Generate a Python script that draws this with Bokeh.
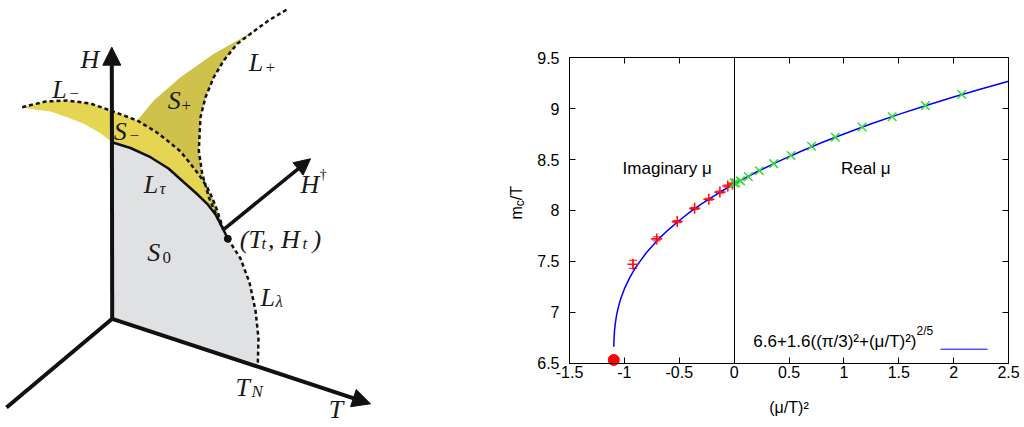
import math
from bokeh.plotting import figure
from bokeh.layouts import row
from bokeh.models import (Range1d, Arrow, NormalHead, Label, Whisker, TeeHead,
                          ColumnDataSource, FixedTicker, LinearAxis)
from bokeh.embed import file_html
from bokeh.resources import INLINE

# ---------------- left panel: schematic phase diagram (panel pixel space) ----------------
ORIGIN = (111.7, 318.3)
H_TIP = (111.3, 46.7)
T_TIP = (370.0, 403.3)
BACK_END = (6.0, 407.0)
HDAG_START = (222.7, 229.3)
HDAG_TIP = (310.0, 158.3)
TRICRIT = (227.3, 238.3)

LTAU_X = [111.5, 130, 150, 168, 183.3, 196, 206.7, 215, 221.7, 227.3]
LTAU_Y = [141.7, 147.5, 156.7, 168, 181.7, 193, 203.3, 214, 226.7, 238.3]
LLAM_X = [227.3, 240, 249, 255, 258, 257.3]
LLAM_Y = [238.3, 258, 282, 310, 338, 364]
LMINUS_X = [21.7, 45, 66.7, 90, 110, 136.7, 155, 166.7, 180, 190, 199, 206.7, 212, 216.7, 220, 222.7]
LMINUS_Y = [106.7, 101, 100, 103, 110, 120, 131, 140, 151, 163.3, 175, 186.7, 198, 210, 220, 229.3]
LPLUS_X = [286, 268, 256.7, 236.7, 223.3, 213.3, 205, 200, 198.3, 201.7, 208.3, 216, 222.7]
LPLUS_Y = [9.3, 20, 28.3, 43.3, 60, 76.7, 96.7, 116.7, 150, 173.3, 196.7, 215, 229.3]
SPLUS_EDGE_X = [136.7, 153.3, 180, 213.3, 240, 256.7]
SPLUS_EDGE_Y = [120, 100, 76.7, 53.3, 38.3, 28.3]
SMINUS_EDGE_X = [111.5, 100, 83.3, 66.7, 50, 21.7]
SMINUS_EDGE_Y = [141.7, 132.7, 123.3, 116.7, 111, 107.3]

C_SMINUS = "#E5D552"
C_SPLUS = "#CEC24C"
C_S0 = "#E0E1E3"

# ---------------- right panel data ----------------
XTICKS = [-1.5, -1.0, -0.5, 0.0, 0.5, 1.0, 1.5, 2.0, 2.5]
XTICK_LABELS = ["-1.5", "-1", "-0.5", "0", "0.5", "1", "1.5", "2", "2.5"]
YTICKS = [6.5, 7.0, 7.5, 8.0, 8.5, 9.0, 9.5]
YTICK_LABELS = ["6.5", "7", "7.5", "8", "8.5", "9", "9.5"]

RED_X = [-0.0144, -0.0576, -0.1296, -0.2304, -0.36, -0.5184, -0.7056, -0.9216]
RED_Y = [8.26, 8.24, 8.18, 8.11, 8.02, 7.89, 7.72, 7.47]
RED_ERR = [0.01, 0.01, 0.01, 0.01, 0.01, 0.012, 0.02, 0.04]

GREEN_X = [0.0, 0.0144, 0.0576, 0.1296, 0.2304, 0.36, 0.5184, 0.7056, 0.9216, 1.1664, 1.44, 1.7424, 2.0736]
GREEN_Y = [8.27, 8.27, 8.29, 8.33, 8.39, 8.46, 8.54, 8.63, 8.72, 8.82, 8.92, 9.03, 9.14]

DOT_X = [-1.0966]
DOT_Y = [6.53]

CURVE_X = [-1.0962, -1.095, -1.09, -1.08, -1.07, -1.06, -1.045, -1.03, -1.0, -0.95, -0.9, -0.8, -0.7,
           -0.6, -0.5, -0.4, -0.3, -0.2, -0.1, 0.0, 0.2, 0.4, 0.6, 0.8, 1.0, 1.25, 1.5, 1.75,
           2.0, 2.25, 2.5]
CURVE_Y = [6.66, 6.722, 6.815, 6.91, 6.975, 7.026, 7.088, 7.141, 7.228, 7.342, 7.435, 7.584, 7.705,
           7.809, 7.901, 7.985, 8.061, 8.131, 8.198, 8.26, 8.375, 8.48, 8.577, 8.667, 8.751, 8.851,
           8.944, 9.031, 9.115, 9.194, 9.27]

LEGEND_TEXT = "6.6+1.6((π/3)²+(μ/T)²)"
LEGEND_SUP = "2/5"

# ---------------- page geometry ----------------
LW, RW, H = 424, 596, 424
# plot box of the right panel in page pixels
BOX_L, BOX_R, BOX_T, BOX_B = 569.0, 1008.0, 57.3, 362.5

# ======================= LEFT FIGURE =======================
left = figure(width=LW, height=H, x_range=Range1d(0, LW), y_range=Range1d(H, 0),
              output_backend="svg", toolbar_location=None,
              x_axis_location=None, y_axis_location=None, min_border=0)
left.grid.visible = False
left.outline_line_color = None
left.background_fill_color = "white"

sm_x = LMINUS_X + LTAU_X[::-1] + SMINUS_EDGE_X
sm_y = LMINUS_Y + LTAU_Y[::-1] + SMINUS_EDGE_Y
left.patch(sm_x, sm_y, fill_color=C_SMINUS, line_color=None)

sp_x = SPLUS_EDGE_X + LPLUS_X[2:] + LMINUS_X[:4:-1]
sp_y = SPLUS_EDGE_Y + LPLUS_Y[2:] + LMINUS_Y[:4:-1]
left.patch(sp_x, sp_y, fill_color=C_SPLUS, line_color=None)

g_x = LTAU_X + LLAM_X + [ORIGIN[0], ORIGIN[0]]
g_y = LTAU_Y + LLAM_Y + [ORIGIN[1], LTAU_Y[0]]
left.patch(g_x, g_y, fill_color=C_S0, line_color=None)

INK = "#111111"
left.line(LTAU_X, LTAU_Y, line_color=INK, line_width=2.5)
for xs, ys in ((LMINUS_X, LMINUS_Y), (LPLUS_X, LPLUS_Y), (LLAM_X, LLAM_Y)):
    left.line(xs, ys, line_color=INK, line_width=2.5, line_dash="4 3")

left.line([ORIGIN[0], BACK_END[0]], [ORIGIN[1], BACK_END[1]], line_color=INK, line_width=4)
left.add_layout(Arrow(x_start=ORIGIN[0], y_start=ORIGIN[1], x_end=H_TIP[0], y_end=H_TIP[1],
                      line_width=4, line_color=INK,
                      end=NormalHead(size=18, fill_color=INK, line_color=INK)))
left.add_layout(Arrow(x_start=ORIGIN[0], y_start=ORIGIN[1], x_end=T_TIP[0], y_end=T_TIP[1],
                      line_width=4, line_color=INK,
                      end=NormalHead(size=18, fill_color=INK, line_color=INK)))
left.add_layout(Arrow(x_start=HDAG_START[0], y_start=HDAG_START[1], x_end=HDAG_TIP[0], y_end=HDAG_TIP[1],
                      line_width=3.5, line_color=INK,
                      end=NormalHead(size=16, fill_color=INK, line_color=INK)))
left.scatter([TRICRIT[0]], [TRICRIT[1]], size=7, color=INK)


def tx(p, x, y, s, size, style="italic", font="Liberation Serif", align="left",
       baseline="alphabetic", angle=0.0, color="#1a1a1a"):
    p.add_layout(Label(x=x, y=y, text=s, text_font=font, text_font_size=f"{size}px",
                       text_font_style=style, text_align=align, text_baseline=baseline,
                       angle=angle, text_color=color))


MS = 26
SS = 17
D = 8  # baseline correction
tx(left, 80, 66.7 - D, "H", MS)
tx(left, 51.7, 96.7 - D, "L", MS); tx(left, 69, 101 - D, "−", SS, style="normal")
tx(left, 248.3, 70 - D, "L", MS); tx(left, 265, 75 - D, "+", SS, style="normal")
tx(left, 167.3, 108.3 - D, "S", MS); tx(left, 181, 113 - D, "+", SS, style="normal")
tx(left, 113.3, 139.3 - D, "S", MS); tx(left, 129, 143 - D, "−", SS, style="normal")
tx(left, 143.3, 191.7 - D, "L", MS); tx(left, 159, 196 - D, "τ", SS)
tx(left, 300, 191.7 - D, "H", MS); tx(left, 319, 181 - D, "†", 15, style="normal")
tx(left, 239.3, 246.7 - D, "(T", MS); tx(left, 261, 251 - D, "t", SS)
tx(left, 267.5, 246.7 - D, ", H", MS); tx(left, 302, 251 - D, "t", SS)
tx(left, 312, 246.7 - D, ")", MS)
tx(left, 146.7, 260 - D, "S", MS); tx(left, 162, 265 - D, "0", SS, style="normal")
tx(left, 260, 305 - D, "L", MS); tx(left, 275, 309 - D, "λ", SS)
tx(left, 235, 395 - D, "T", MS); tx(left, 251, 399 - D, "N", SS)
tx(left, 328.3, 409, "T", MS)

# ======================= RIGHT FIGURE =======================
# ranges chosen so that the data box lands on the reference's plot box
x_per_px = (XTICKS[-1] - XTICKS[0]) / (BOX_R - BOX_L)
y_per_px = (YTICKS[-1] - YTICKS[0]) / (BOX_B - BOX_T)
x_start = XTICKS[0] - (BOX_L - LW) * x_per_px
x_end = XTICKS[-1] + (LW + RW - BOX_R) * x_per_px
y_end = YTICKS[-1] + BOX_T * y_per_px
y_start = YTICKS[0] - (H - BOX_B) * y_per_px


def rx(px):
    return x_start + (px - LW) * x_per_px


def ry(py):
    return y_end - py * y_per_px


right = figure(width=RW, height=H, x_range=Range1d(x_start, x_end), y_range=Range1d(y_start, y_end),
               output_backend="svg", toolbar_location=None,
               x_axis_location=None, y_axis_location=None, min_border=0)
right.grid.visible = False
right.outline_line_color = None
right.background_fill_color = "white"

AX_FONT = "Liberation Sans"


def box_axis(fixed, ticks, labels):
    ax = LinearAxis(fixed_location=fixed, bounds=(ticks[0], ticks[-1]),
                    ticker=FixedTicker(ticks=ticks),
                    major_tick_in=6, major_tick_out=0, minor_tick_in=0, minor_tick_out=0,
                    axis_line_color="black", axis_line_width=1,
                    major_tick_line_color="black", major_tick_line_width=1)
    if labels is None:
        ax.major_label_text_color = None
    else:
        ax.major_label_overrides = dict(zip(ticks, labels))
        ax.major_label_text_font = AX_FONT
        ax.major_label_text_font_size = "16px"
        ax.major_label_text_color = "black"
    return ax


xb = box_axis(YTICKS[0], XTICKS, XTICK_LABELS)
xb.major_label_standoff = 3
xb.axis_label = "(μ/T)²"
xb.axis_label_text_font = AX_FONT
xb.axis_label_text_font_size = "16px"
xb.axis_label_text_font_style = "normal"
xb.axis_label_text_color = "black"
xb.axis_label_standoff = 17
right.add_layout(xb, "below")

yl = box_axis(XTICKS[0], YTICKS, YTICK_LABELS)
yl.major_label_standoff = 10
right.add_layout(yl, "left")

right.add_layout(box_axis(YTICKS[-1], XTICKS, None), "above")
right.add_layout(box_axis(XTICKS[-1], YTICKS, None), "right")

# zero line x = 0 inside the box
zero = LinearAxis(fixed_location=0.0, bounds=(YTICKS[0], YTICKS[-1]), ticker=FixedTicker(ticks=[]),
                  major_tick_in=0, major_tick_out=0, minor_tick_in=0, minor_tick_out=0,
                  major_label_text_color=None, axis_line_color="black", axis_line_width=1)
right.add_layout(zero, "left")

right.line(CURVE_X, CURVE_Y, line_color="blue", line_width=1.5)

err_src = ColumnDataSource(dict(x=RED_X,
                                lo=[y - e for y, e in zip(RED_Y, RED_ERR)],
                                hi=[y + e for y, e in zip(RED_Y, RED_ERR)]))
right.add_layout(Whisker(source=err_src, base="x", lower="lo", upper="hi", dimension="height",
                         line_color="red", line_width=1,
                         upper_head=TeeHead(size=8, line_color="red", line_width=1),
                         lower_head=TeeHead(size=8, line_color="red", line_width=1)))
right.scatter(RED_X, RED_Y, marker="cross", size=11, line_color="#ff1010", line_width=1.6)
right.scatter(GREEN_X, GREEN_Y, marker="x", size=12, line_color="#33dd33", line_width=1.5)
right.scatter(DOT_X, DOT_Y, marker="circle", size=11, fill_color="red", line_color="red")

tx(right, -0.61, 8.41, "Imaginary μ", 17, style="normal", font=AX_FONT, align="center",
   baseline="middle", color="black")
tx(right, 1.20, 8.41, "Real μ", 17, style="normal", font=AX_FONT, align="center",
   baseline="middle", color="black")

# legend (gnuplot style: text, then line sample)
tx(right, rx(916), ry(341), LEGEND_TEXT, 17, style="normal", font=AX_FONT, align="right", color="black")
tx(right, rx(916), ry(330), LEGEND_SUP, 12, style="normal", font=AX_FONT, align="left", color="black")
right.line([rx(940), rx(987)], [ry(348.7), ry(348.7)], line_color="blue", line_width=1)

# y axis label m_c /T (rotated)
ang = math.pi / 2
tx(right, rx(516), ry(219), "m", 16, style="normal", font=AX_FONT, angle=ang, color="black")
tx(right, rx(519.5), ry(205.7), "c", 12, style="normal", font=AX_FONT, angle=ang, color="black")
tx(right, rx(516), ry(199.7), " /T", 16, style="normal", font=AX_FONT, angle=ang, color="black")

layout = row(left, right)
open("out.html", "w").write(file_html(layout, INLINE))
